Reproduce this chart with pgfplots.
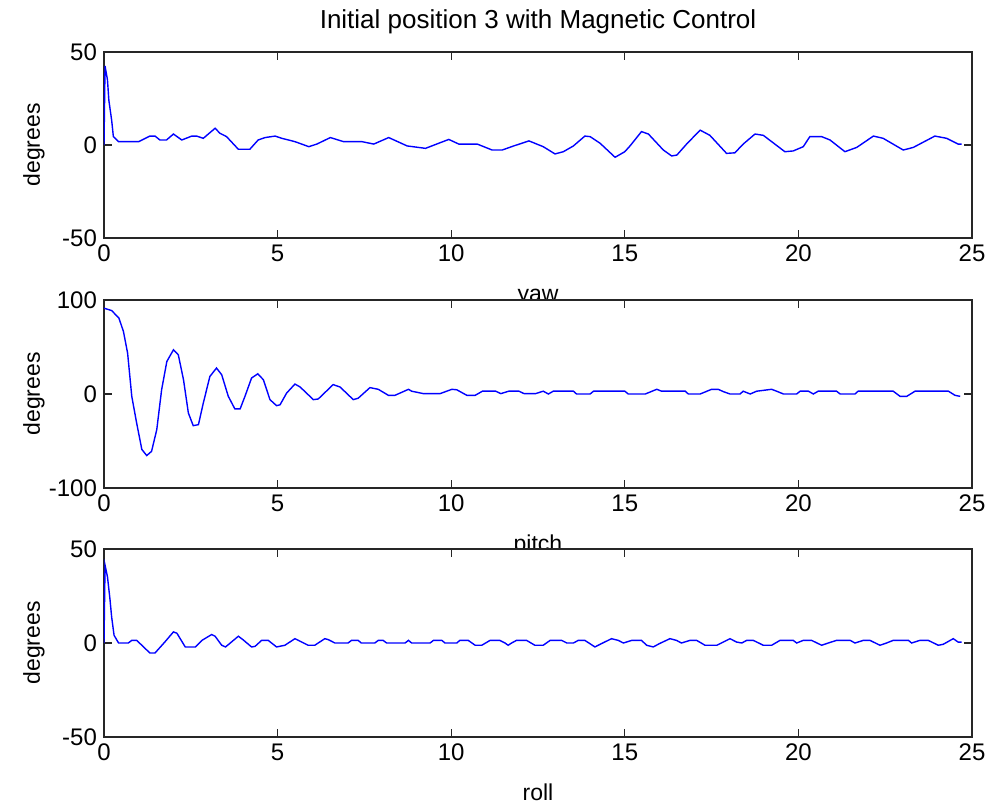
\documentclass[border=0pt]{standalone}
\usepackage{fontspec}
\setmainfont{Liberation Sans}
\usepackage{pgfplots}
\pgfplotsset{compat=1.18}
\begin{document}
\begin{tikzpicture}
\path[use as bounding box] (0pt,0pt) rectangle (495pt,405pt);
\pgfplotsset{
  matlab/.style={
    scale only axis, width=434pt,
    xmin=0, xmax=25, xtick={0,5,...,25},
    tick align=inside, major tick length=4pt,
    axis line style={line width=0.6pt, black!85},
    every tick/.style={black!85, line width=0.6pt},
    axis background/.style={fill=white},
    /pgf/number format/assume math mode=true,
    tick label style={font=\fontsize{12}{14}\selectfont},
    label style={font=\fontsize{11.5}{14}\selectfont},
    xlabel style={at={(axis description cs:0.5,0)}, anchor=base, yshift=-31.5pt},
    ylabel style={at={(axis description cs:-0.0806,0.5)}, anchor=center},
    ylabel=degrees,
    every axis title/.style={at={(axis description cs:0.5,1)}, anchor=base, yshift=12pt, font=\fontsize{13}{15}\selectfont},
  }
}
% yaw
\begin{axis}[matlab, at={(52pt,286pt)}, anchor=south west, height=93pt,
  ymin=-50, ymax=50, ytick={-50,0,50}, xlabel=yaw,
  title={Initial position 3 with Magnetic Control}]
\addplot[blue, line width=0.7pt] coordinates {
(0,0) (0.03,42.5) (0.1,35) (0.14,24) (0.22,13.4) (0.27,4.5) (0.42,1.8) (1.0,1.8)
(1.32,4.8) (1.47,4.8) (1.61,2.7) (1.80,2.7) (2.0,5.9) (2.24,2.7) (2.53,4.8) (2.67,4.8)
(2.86,3.6) (3.2,9) (3.34,6.3) (3.53,4.5) (3.87,-2.3) (4.2,-2.3) (4.44,2.7) (4.64,4)
(4.93,4.8) (5.12,3.6) (5.5,1.8) (5.9,-0.9) (6.13,0.5) (6.52,4) (6.9,1.8) (7.43,1.8)
(7.77,0.5) (8.2,4) (8.73,-0.5) (9.26,-1.8) (9.93,3) (10.22,0.5) (10.75,0.5) (11.18,-2.7)
(11.47,-2.7) (11.8,-0.5) (12.24,2.2) (12.65,-0.9) (12.99,-4.8) (13.23,-3.6) (13.52,-0.5)
(13.85,4.8) (14.0,4.5) (14.29,0.9) (14.72,-6.6) (15.0,-3.6) (15.15,-0.5) (15.48,7.2)
(15.68,5.9) (16.11,-2.7) (16.35,-5.9) (16.5,-5.4) (16.78,0.5) (17.17,8) (17.45,5.2)
(17.93,-4.5) (18.17,-4.2) (18.41,0.5) (18.75,5.9) (18.99,5.2) (19.61,-3.6) (19.85,-3.2)
(20.14,-0.9) (20.33,4.5) (20.67,4.5) (20.91,2.7) (21.34,-3.6) (21.68,-1.3) (22.16,4.8)
(22.44,3.6) (23.02,-2.7) (23.31,-1.3) (23.93,4.8) (24.27,3.6) (24.6,0.5) (24.7,0.5)
};
\end{axis}
% pitch
\begin{axis}[matlab, at={(52pt,161pt)}, anchor=south west, height=94pt,
  ymin=-100, ymax=100, ytick={-100,0,100}, xlabel=pitch]
\addplot[blue, line width=0.7pt] coordinates {
(0,91.3) (0.22,88.8) (0.43,80.7) (0.56,66.5) (0.68,43.5) (0.8,-2.5) (0.94,-30.8)
(1.09,-59) (1.23,-65.5) (1.37,-61) (1.52,-37.9) (1.66,4.6) (1.81,34.6) (2.0,47)
(2.14,41.7) (2.29,15.2) (2.43,-20.2) (2.57,-33.7) (2.72,-32.6) (2.86,-9.6) (3.05,18.7)
(3.24,27.6) (3.39,20.5) (3.58,-2.5) (3.77,-15.9) (3.92,-15.9) (4.06,-2.5) (4.25,17)
(4.43,21.5) (4.59,15.2) (4.78,-6) (4.97,-12.4) (5.07,-11.5) (5.26,1) (5.5,10.6)
(5.65,7.4) (6.03,-6) (6.17,-5.3) (6.6,10) (6.8,7.4) (7.18,-6) (7.32,-4.5) (7.66,6.8)
(7.9,5) (8.19,-1.4) (8.38,-1.4) (8.77,5) (8.86,3) (9.2,0.4) (9.68,0.4) (10.02,5)
(10.16,4.5) (10.45,-1.4) (10.69,-1.4) (10.9,3) (11.28,3) (11.43,0.4) (11.66,3)
(11.95,3) (12.1,0.4) (12.43,0.4) (12.65,3) (12.8,0) (12.94,3) (13.52,3) (13.61,0)
(14.0,0) (14.1,3) (15.0,3) (15.1,0) (15.59,0) (15.92,5) (16.06,3) (16.74,3) (16.83,0)
(17.17,0) (17.5,5) (17.69,5) (17.84,2.5) (18.03,0) (18.32,0) (18.41,3) (18.61,0)
(18.8,3) (19.23,5) (19.37,3) (19.57,0) (19.95,0) (20.05,3) (20.29,3) (20.43,0)
(20.57,3) (21.1,3) (21.2,0) (21.63,0) (21.72,3) (22.73,3) (22.93,-2.5) (23.12,-2.5)
(23.36,3) (24.32,3) (24.51,-1.4) (24.66,-2.5)
};
\end{axis}
% roll
\begin{axis}[matlab, at={(52pt,36.5pt)}, anchor=south west, height=94pt,
  ymin=-50, ymax=50, ytick={-50,0,50}, xlabel=roll]
\addplot[blue, line width=0.7pt] coordinates {
(0,0) (0.03,41.4) (0.1,35.2) (0.17,23.7) (0.22,13.9) (0.29,4.1) (0.42,0) (0.7,0)
(0.8,1.4) (0.94,1.4) (1.09,-1.2) (1.32,-5.3) (1.47,-5.3) (1.76,0.7) (2.0,5.9) (2.1,5.2)
(2.34,-2.1) (2.63,-2.1) (2.82,1.4) (3.1,4.5) (3.2,3.6) (3.39,-1.2) (3.5,-2.1) (3.87,3.6)
(4.0,1.8) (4.25,-2.1) (4.35,-1.8) (4.54,1.4) (4.73,1.4) (4.97,-2.1) (5.21,-1.2)
(5.5,2.3) (5.6,1.4) (5.88,-1.2) (6.07,-1.2) (6.36,2.3) (6.46,1.8) (6.65,0) (7.03,0)
(7.13,1.4) (7.32,1.4) (7.41,0) (7.8,0) (7.9,1.4) (8.04,1.4) (8.14,0) (8.67,0) (8.77,1.4)
(8.86,0) (9.39,0) (9.49,1.4) (9.73,1.4) (9.82,0) (10.16,0) (10.25,1.4) (10.49,1.4)
(10.69,-1.2) (10.88,-1.2) (11.12,1.4) (11.4,1.4) (11.55,0) (11.64,-1.2) (11.74,0)
(11.88,1.4) (12.17,1.4) (12.41,-1.2) (12.65,-1.2) (12.85,1.4) (13.18,1.4) (13.33,0)
(13.52,0) (13.66,1.4) (13.85,1.4) (14.14,-2.1) (14.33,-0.3) (14.62,2.3) (14.81,1.4)
(14.96,0) (15.2,1.4) (15.48,1.4) (15.63,-1.2) (15.82,-2.1) (16.0,-0.3) (16.3,2.3)
(16.49,1.4) (16.63,0) (16.88,1.4) (17.07,1.4) (17.31,-1.2) (17.65,-1.2) (18.03,2.3)
(18.22,0.5) (18.37,0) (18.51,1.4) (18.7,1.4) (18.99,-1.2) (19.23,-1.2) (19.47,1.4)
(19.85,1.4) (19.95,0) (20.14,1.4) (20.38,1.4) (20.67,-1.2) (20.86,0) (21.1,1.4)
(21.49,1.4) (21.63,0) (21.87,1.4) (22.06,1.4) (22.35,-1.2) (22.54,0) (22.73,1.4)
(23.17,1.4) (23.26,0) (23.5,1.4) (23.74,1.4) (24.03,-1.2) (24.17,-0.7) (24.46,2.3)
(24.6,0.5) (24.7,0.5)
};
\end{axis}
\end{tikzpicture}
\end{document}
